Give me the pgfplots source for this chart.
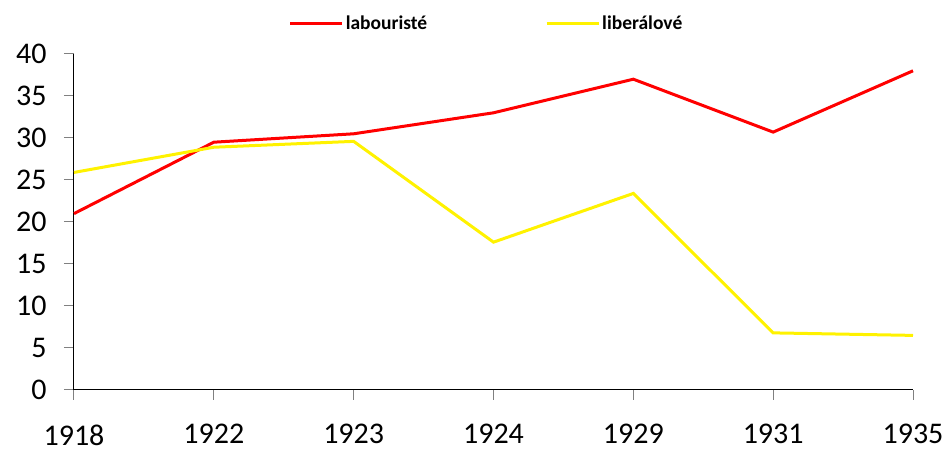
\documentclass[border=0pt]{standalone}
\usepackage{pgfplots}
\pgfplotsset{compat=1.18}
\usepackage{fontspec}
\setmainfont{Carlito}

\begin{document}
\begin{tikzpicture}
\begin{axis}[
scale only axis,
width=839pt,
height=336pt,
xmin=0, xmax=6,
ymin=0, ymax=40,
xtick={0,1,2,3,4,5,6},
xticklabels={1918,1922,1923,1924,1929,1931,1935},
ytick={0,5,...,40},
axis x line*=bottom,
axis y line*=left,
axis line style={-, black, line width=1pt},
tick align=outside,
major tick length=10pt,
tick style={gray, line width=1pt},
/pgf/number format/assume math mode=true,
ticklabel style={font=\fontsize{30}{36}\selectfont},
xticklabel style={yshift=-21pt},
yticklabel style={xshift=-14pt},
legend columns=2,
legend style={draw=none, fill=none, at={(0.4917,1.092)}, anchor=center,
  font=\fontsize{19.5}{22}\selectfont\bfseries,
  inner sep=0pt,
  /tikz/every even column/.append style={column sep=116pt}},
legend image code/.code={\draw[#1] (0pt,0pt) -- (52pt,0pt);},
clip=false,
]
\addplot[red, line width=3pt] coordinates {(0,21) (1,29.5) (2,30.5) (3,33) (4,37) (5,30.7) (6,38)};
\addlegendentry{labouristé}
\addplot[yellow, line width=3pt] coordinates {(0,25.9) (1,28.9) (2,29.6) (3,17.6) (4,23.4) (5,6.8) (6,6.5)};
\addlegendentry{liberálové}
\path (rel axis cs:0,0) ++(-74pt,-64pt);
\path (rel axis cs:1,1) ++(34pt,54pt);
\end{axis}
\end{tikzpicture}
\end{document}
